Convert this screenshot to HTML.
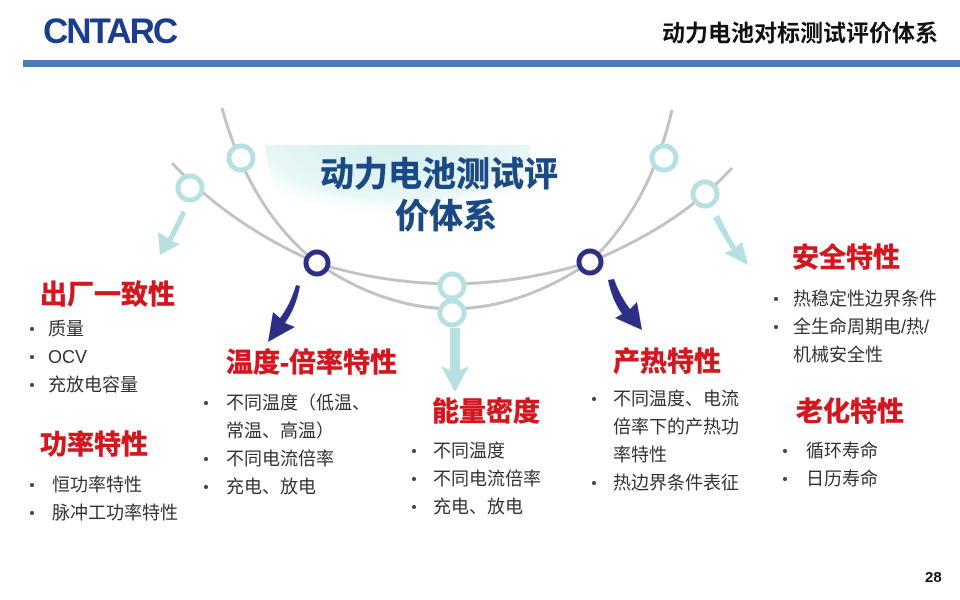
<!DOCTYPE html>
<html><head><meta charset="utf-8"><style>
body{margin:0;width:960px;height:600px;background:#fff;position:relative;overflow:hidden;font-family:"Liberation Sans","Noto Sans CJK SC",sans-serif}
.t{position:absolute;white-space:nowrap}
.h{font-size:27px;font-weight:bold;color:#d4161e;line-height:30px;-webkit-text-stroke:0.6px #d4161e}
.b{font-size:18px;color:#333;line-height:28px}
.d{position:absolute;width:4px;height:4px;border-radius:2px;background:#444}
</style></head><body>
<div class="t" style="left:43px;top:12px;font-size:35px;font-weight:900;color:#1a3d8f;letter-spacing:-2px;transform:scaleX(1.0);transform-origin:left;font-family:'Liberation Sans',sans-serif">CNTARC</div>
<div class="t" style="right:22px;top:14px;font-size:23px;font-weight:bold;color:#111">动力电池对标测试评价体系</div>
<div style="position:absolute;left:23px;top:60px;width:937px;height:7px;background:#4c7bb5"></div>
<svg width="960" height="600" style="position:absolute;left:0;top:0">
<defs><radialGradient id="g" cx="50%" cy="0%" r="70%"><stop offset="0" stop-color="#d2eeee"/><stop offset="0.7" stop-color="#e8f6f6"/><stop offset="1" stop-color="#fff" stop-opacity="0"/></radialGradient></defs>
<path d="M265 145 L530 145 Q520 250 398 252 Q275 250 265 145Z" fill="url(#g)"/>
<path d="M222 108 Q250 210 317 263 Q452 355 590 262 Q650 205 672 110" fill="none" stroke="#bfc3c8" stroke-width="3"/>
<path d="M172 163 Q230 225 317 263 Q452 305 590 262 Q680 225 732 168" fill="none" stroke="#bfc3c8" stroke-width="3"/>
<g fill="#fff" stroke="#b7e0e2" stroke-width="5">
<circle cx="241" cy="158" r="12"/><circle cx="190" cy="188" r="12"/><circle cx="452" cy="286" r="12"/><circle cx="452" cy="313" r="12"/><circle cx="664" cy="158" r="12"/><circle cx="705" cy="194" r="12"/></g>
<g fill="#fff" stroke="#2d2f86" stroke-width="5"><circle cx="317" cy="263" r="11"/><circle cx="590" cy="262" r="11"/></g>
<g fill="#b7e0e2">
<path d="M182 210 Q175 225 168 238 L158 232 L160 255 L180 244 L172 241 Q180 228 186 213Z"/>
<path d="M450 328 L460 328 L460 370 L469 366 L455 392 L441 366 L450 370Z"/>
<path d="M713 218 Q722 235 732 250 L724 253 L748 265 L742 242 L736 247 Q727 232 719 215Z"/>
</g>
<g fill="#2d2f86">
<path d="M296 285 Q290 305 280 318 L273 312 L268 342 L295 327 L285 323 Q296 308 300 286Z"/>
<path d="M608 280 Q612 300 622 314 L615 318 L642 330 L637 302 L630 309 Q620 296 614 279Z"/>
</g>
</svg>
<div class="t" style="left:300px;top:153px;width:300px;font-size:34px;font-weight:bold;color:#1a4a85;line-height:44px;-webkit-text-stroke:0.5px #1a4a85">
<div style="position:absolute;left:20px;top:0">动力电池测试评</div>
<div style="position:absolute;left:95px;top:42px">价体系</div></div>

<div class="t h" style="left:40px;top:280px">出厂一致性</div>
<div class="d" style="left:30px;top:327px"></div><div class="t b" style="left:48px;top:315px">质量</div>
<div class="d" style="left:30px;top:355px"></div><div class="t b" style="left:48px;top:343px">OCV</div>
<div class="d" style="left:30px;top:383px"></div><div class="t b" style="left:48px;top:371px">充放电容量</div>
<div class="t h" style="left:40px;top:430px">功率特性</div>
<div class="d" style="left:30px;top:483px"></div><div class="t b" style="left:52px;top:471px">恒功率特性</div>
<div class="d" style="left:30px;top:511px"></div><div class="t b" style="left:52px;top:499px">脉冲工功率特性</div>

<div class="t h" style="left:226px;top:348px">温度-倍率特性</div>
<div class="d" style="left:204px;top:401px"></div><div class="t b" style="left:226px;top:389px">不同温度（低温、</div>
<div class="t b" style="left:226px;top:417px">常温、高温）</div>
<div class="d" style="left:204px;top:457px"></div><div class="t b" style="left:226px;top:445px">不同电流倍率</div>
<div class="d" style="left:204px;top:485px"></div><div class="t b" style="left:226px;top:473px">充电、放电</div>

<div class="t h" style="left:432px;top:397px">能量密度</div>
<div class="d" style="left:412px;top:449px"></div><div class="t b" style="left:433px;top:437px">不同温度</div>
<div class="d" style="left:412px;top:477px"></div><div class="t b" style="left:433px;top:465px">不同电流倍率</div>
<div class="d" style="left:412px;top:505px"></div><div class="t b" style="left:433px;top:493px">充电、放电</div>

<div class="t h" style="left:613px;top:347px">产热特性</div>
<div class="d" style="left:592px;top:397px"></div><div class="t b" style="left:613px;top:385px">不同温度、电流</div>
<div class="t b" style="left:613px;top:413px">倍率下的产热功</div>
<div class="t b" style="left:613px;top:441px">率特性</div>
<div class="d" style="left:592px;top:481px"></div><div class="t b" style="left:613px;top:469px">热边界条件表征</div>

<div class="t h" style="left:792px;top:243px">安全特性</div>
<div class="d" style="left:774px;top:297px"></div><div class="t b" style="left:793px;top:285px">热稳定性边界条件</div>
<div class="d" style="left:774px;top:325px"></div><div class="t b" style="left:793px;top:313px">全生命周期电/热/</div>
<div class="t b" style="left:793px;top:341px">机械安全性</div>

<div class="t h" style="left:796px;top:397px">老化特性</div>
<div class="d" style="left:783px;top:449px"></div><div class="t b" style="left:806px;top:437px">循环寿命</div>
<div class="d" style="left:783px;top:477px"></div><div class="t b" style="left:806px;top:465px">日历寿命</div>

<div class="t" style="left:925px;top:569px;font-size:15px;font-weight:bold;color:#111">28</div>
</body></html>
